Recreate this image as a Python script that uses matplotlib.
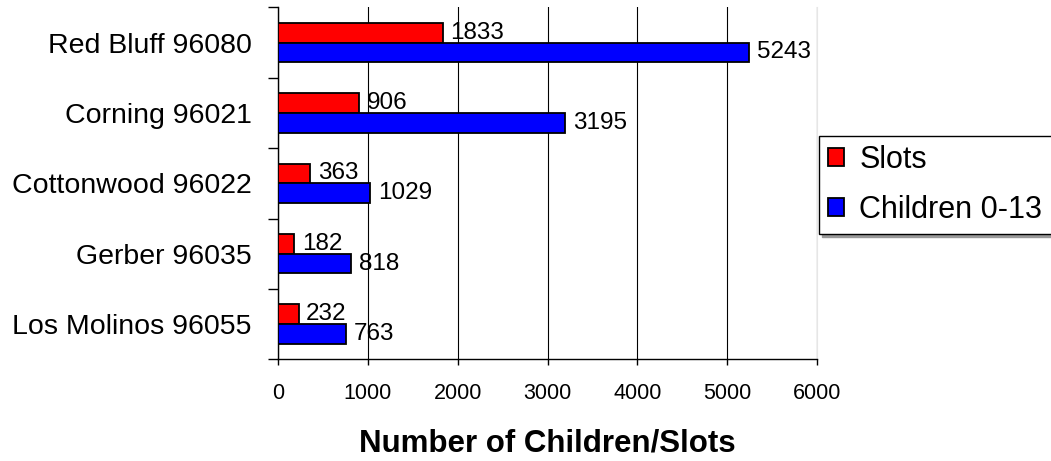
import numpy as np
import matplotlib.pyplot as plt

plt.rcParams['font.family'] = ['Liberation Sans', 'DejaVu Sans']

# Datos
zonas = ["Red Bluff 96080", "Corning 96021", "Cottonwood 96022",
         "Gerber 96035", "Los Molinos 96055"]
plazas = [1833, 906, 363, 182, 232]
ninos = [5243, 3195, 1029, 818, 763]
ticks_x = [0, 1000, 2000, 3000, 4000, 5000, 6000]

fig = plt.figure(figsize=(10.51, 4.61), dpi=100)
ax = fig.add_axes([277.7 / 1051, 1 - 359.3 / 461, (817.3 - 277.7) / 1051, 352 / 461])

y = np.arange(len(zonas))
h = 0.28
b1 = ax.barh(y - h / 2, plazas, height=h, color="#ff0000", edgecolor="black",
             linewidth=1.3, label="Slots", zorder=3)
b2 = ax.barh(y + h / 2, ninos, height=h, color="#0000ff", edgecolor="black",
             linewidth=1.3, label="Children 0-13", zorder=3)

for barras, vals in ((b1, plazas), (b2, ninos)):
    for r, v in zip(barras, vals):
        ax.annotate(str(v), (v, r.get_y() + r.get_height() / 2),
                    xytext=(5.5, 0), textcoords="offset points",
                    ha="left", va="center", fontsize=17.5, zorder=4)

ax.set_xlim(0, 6000)
ax.set_ylim(len(zonas) - 0.5, -0.5)
ax.set_xticks(ticks_x)
ax.set_xticklabels([str(t) for t in ticks_x], fontsize=15.5)
ax.tick_params(axis="x", direction="out", length=4.3, width=1, pad=12.5)

ax.set_yticks(y)
ax.set_yticklabels(zonas, fontsize=20.5)
ax.set_yticks(np.arange(-0.5, len(zonas)), minor=True)
ax.tick_params(axis="y", which="major", length=0, pad=18.7)
ax.tick_params(axis="y", which="minor", direction="out", length=7.2, width=1)

ax.grid(axis="x", color="black", linewidth=0.8, zorder=0)
ax.set_axisbelow(True)
ax.spines["top"].set_visible(False)
ax.spines["right"].set_color("#e6e6e6")
ax.spines["left"].set_linewidth(1)
ax.spines["bottom"].set_linewidth(1)

ax.set_xlabel("Number of Children/Slots", fontsize=22.5, fontweight="bold")
ax.xaxis.set_label_coords(0.5, -0.24)
ax.xaxis.label.set_va("center")

leg = ax.legend(loc="upper left", bbox_to_anchor=(819 / 1051, 1 - 135.7 / 461),
                bbox_transform=fig.transFigure, borderaxespad=0, fontsize=22,
                fancybox=False, edgecolor="black", framealpha=1,
                handlelength=0.52, handleheight=0.52, handletextpad=0.5,
                labelspacing=0.65, borderpad=0.3,
                shadow={"color": "0.6", "alpha": 1})
leg.get_frame().set_linewidth(1)

fig.savefig("out.png", dpi=100)
